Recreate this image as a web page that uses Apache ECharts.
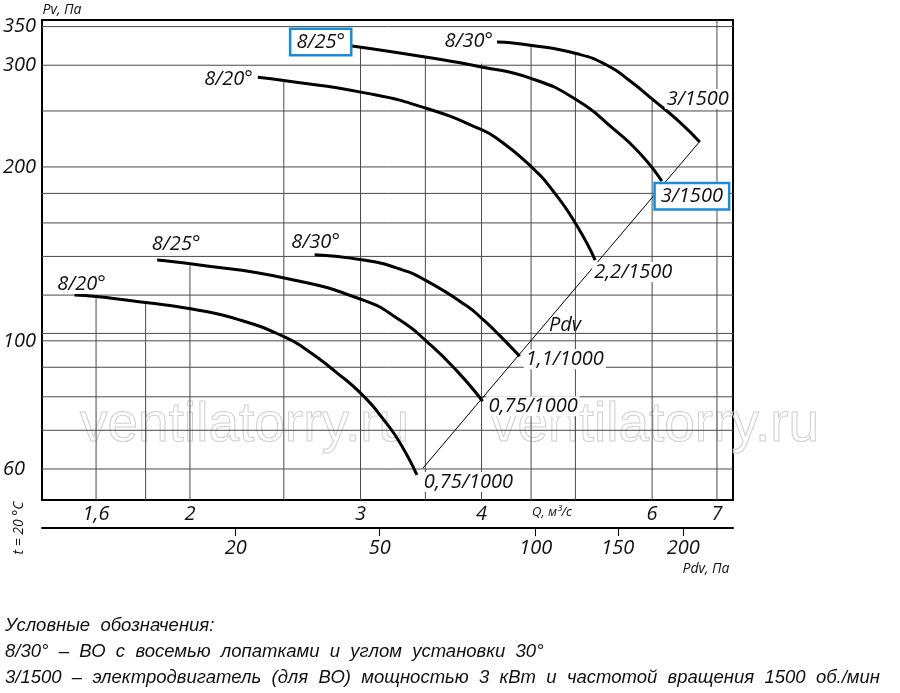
<!DOCTYPE html>
<html lang="ru">
<head>
    <meta charset="UTF-8">
    <title>Аэродинамические характеристики</title>
    <style>
        html, body {
            margin: 0;
            height: 100%;
            background: #fff;
        }
        #main {
            width: 900px;
            height: 693px;
        }
    </style>
</head>
<body>
<div id="main"></div>
<script src="https://cdn.jsdelivr.net/npm/echarts@6/dist/echarts.min.js"></script>
<script>
    // характеристики: Q, м3/с -> Pv, Па
    var q20hi = [2.35, 2.51, 3.02, 3.50, 4.00, 4.18, 4.49, 4.75, 5.02, 5.24];
    var p20hi = [286, 282, 269, 253, 232, 222, 201, 181, 158, 138];
    var q25hi = [2.94, 3.50, 4.00, 4.49, 5.02, 5.47, 5.83, 6.14];
    var p25hi = [324, 310, 298, 285, 261, 233, 211, 189];
    var q30hi = [4.15, 4.49, 5.02, 5.39, 5.69, 6.02, 6.41, 6.72];
    var p30hi = [329, 325, 314, 300, 282, 261, 239, 221];
    var q20lo = [1.52, 1.60, 1.80, 2.01, 2.25, 2.51, 2.64, 2.83, 3.02, 3.17, 3.30, 3.43];
    var p20lo = [120, 119.3, 116.5, 113.5, 108.7, 101.4, 96.4, 88.3, 80.3, 73, 66.3, 58.6];
    var q25lo = [1.85, 2.01, 2.51, 3.02, 3.30, 3.51, 3.77, 4.01];
    var p25lo = [138, 135.8, 128.3, 117.6, 108.4, 99.8, 88.8, 78.6];
    var q30lo = [2.69, 3.02, 3.30, 3.51, 3.86, 4.01, 4.18, 4.38];
    var p30lo = [141, 138, 133, 127, 115, 109, 102, 94];

    var bladeNames = ['8/20°', '8/25°', '8/30°', '8/20°', '8/25°', '8/30°'];
    var motorNames = ['2,2/1500', '3/1500', '3/1500', '0,75/1000', '0,75/1000', '1,1/1000'];

    // линия Pdv через концы характеристик
    var pdvLineQ = [3.48, 6.72];
    var pdvLineP = [60.2, 221.5];

    // подписи осей
    var qTicks = [1.6, 2, 3, 4, 6, 7];
    var pTicks = [60, 100, 200, 300, 350];
    var pdvTicks = [20, 50, 100, 150, 200];
    var pdvTickQ = [2.23, 3.14, 4.55, 5.53, 6.46];

    // сетка
    var gridP = [60, 70, 80, 90, 100, 103, 120, 140, 160, 180, 200, 250, 300, 350];
    var gridQ = [1.6, 1.8, 2, 2.5, 3, 3.5, 4, 4.5, 5, 6, 7];
    var gridQTop = [119, 117, 135, 281, 322, 310, 302, 325, 314, 261, 359];

    var Q_MIN = 1.407, Q_MAX = 7.272;
    var P_MIN = 53.02, P_MAX = 359.3;

    var FONT = "'Open Sans', 'DejaVu Sans', sans-serif";
    var TEXT_FONT = "'Liberation Sans', Arial, sans-serif";
    var BLUE = '#1a8bd6';
    var GRID_COLOR = '#4a4a4a';

    var curveQ = [q20hi, q25hi, q30hi, q20lo, q25lo, q30lo];
    var curveP = [p20hi, p25hi, p30hi, p20lo, p25lo, p30lo];

    // где стоят подписи у начала и конца кривых
    var startLabelStyle = [
        {position: 'left', distance: 3, offset: [0, 2]},
        {position: 'left', distance: 2, offset: [0, -4], boxed: true},
        {position: 'left', distance: 2, offset: [0, -1]},
        {position: 'top', distance: 1, offset: [7, 0]},
        {position: 'top', distance: 6, offset: [19, 0]},
        {position: 'top', distance: 2, offset: [1, 0]}
    ];
    var endLabelStyle = [
        {position: 'right', distance: -3, offset: [0, 12]},
        {position: 'right', distance: -6, offset: [0, 15], boxed: true},
        {position: 'top', distance: 33, offset: [-2, 0]},
        {position: 'right', distance: 5, offset: [0, 7]},
        {position: 'right', distance: 4, offset: [0, 5]},
        {position: 'right', distance: 4, offset: [0, 3]}
    ];

    function makeLabel(text, st) {
        var lab = {
            show: true,
            formatter: text,
            position: st.position,
            distance: st.distance,
            offset: st.offset,
            fontFamily: FONT,
            fontStyle: 'italic',
            fontSize: 20,
            color: '#111',
            backgroundColor: '#fff',
            padding: [0, 2]
        };
        if (st.boxed) {
            lab.borderColor = BLUE;
            lab.borderWidth = 2.5;
            lab.padding = [3, 5, 1, 5];
        }
        return lab;
    }

    function curveSeries(i) {
        var qs = curveQ[i], ps = curveP[i];
        var data = qs.map(function (q, k) {
            var item = {value: [q, ps[k]]};
            if (k === 0) item.label = makeLabel(bladeNames[i], startLabelStyle[i]);
            if (k === qs.length - 1) item.label = makeLabel(motorNames[i], endLabelStyle[i]);
            return item;
        });
        return {
            type: 'line',
            xAxisIndex: 0,
            yAxisIndex: 0,
            smooth: 0.55,
            symbol: 'circle',
            symbolSize: 0,
            showSymbol: true,
            showAllSymbol: true,
            silent: true,
            z: 3,
            itemStyle: {color: '#000'},
            lineStyle: {color: '#000', width: 3},
            label: {show: false},
            data: data
        };
    }

    function vGrid(params, api) {
        var top = api.coord([api.value(0), api.value(1)]);
        var bot = api.coord([api.value(0), P_MIN]);
        return {
            type: 'line',
            shape: {x1: top[0], y1: top[1], x2: bot[0], y2: bot[1]},
            style: {stroke: GRID_COLOR, lineWidth: 1}
        };
    }

    function hGrid(params, api) {
        var a = api.coord([Q_MIN, api.value(1)]);
        var b = api.coord([Q_MAX, api.value(1)]);
        return {
            type: 'line',
            shape: {x1: a[0], y1: a[1], x2: b[0], y2: b[1]},
            style: {stroke: GRID_COLOR, lineWidth: 1}
        };
    }

    function txt(x, y, text, size, extra) {
        var el = {
            type: 'text',
            x: x,
            y: y,
            silent: true,
            style: {
                text: text,
                font: 'italic ' + size + 'px ' + FONT,
                fill: '#111',
                align: 'center',
                verticalAlign: 'middle'
            }
        };
        if (extra) {
            for (var k in extra) el[k] = extra[k];
        }
        return el;
    }

    function legendLine(y, text) {
        return {
            type: 'text',
            x: 5,
            y: y,
            silent: true,
            style: {
                text: text,
                font: 'italic 18.5px ' + TEXT_FONT,
                fill: '#111',
                align: 'left',
                verticalAlign: 'middle'
            }
        };
    }

    function watermark(x) {
        return {
            type: 'text',
            x: x,
            y: 426,
            silent: true,
            z: 0,
            style: {
                text: 'ventilatorry.ru',
                font: '55px ' + TEXT_FONT,
                fill: 'none',
                stroke: '#cfcfcf',
                lineWidth: 1,
                align: 'left',
                verticalAlign: 'middle'
            }
        };
    }

    var axisFont = {
        fontFamily: FONT,
        fontStyle: 'italic',
        fontSize: 20,
        color: '#111'
    };

    var series = [
        {
            type: 'custom',
            xAxisIndex: 0,
            yAxisIndex: 0,
            silent: true,
            z: 1,
            renderItem: vGrid,
            encode: {x: 0, y: 1},
            data: gridQ.map(function (q, i) { return [q, gridQTop[i]]; })
        },
        {
            type: 'custom',
            xAxisIndex: 0,
            yAxisIndex: 0,
            silent: true,
            z: 1,
            renderItem: hGrid,
            encode: {x: 0, y: 1},
            data: gridP.map(function (p) { return [Q_MIN, p]; })
        },
        {
            type: 'line',
            xAxisIndex: 0,
            yAxisIndex: 0,
            silent: true,
            z: 2,
            symbol: 'none',
            lineStyle: {color: '#000', width: 1},
            data: pdvLineQ.map(function (q, i) { return [q, pdvLineP[i]]; })
        }
    ];
    for (var i = 0; i < curveQ.length; i++) series.push(curveSeries(i));

    var chart = echarts.init(document.getElementById('main'));
    var option = {
        animation: false,
        backgroundColor: '#fff',
        grid: [
            {
                left: 42, top: 20, width: 691, height: 480,
                show: true, borderColor: '#000', borderWidth: 2,
                containLabel: false, outerBoundsMode: 'none'
            },
            {
                left: 42, top: 527, width: 691, height: 1,
                containLabel: false, outerBoundsMode: 'none'
            }
        ],
        xAxis: [
            {
                type: 'log',
                gridIndex: 0,
                min: Q_MIN,
                max: Q_MAX,
                axisLine: {show: false},
                axisTick: {show: false},
                minorTick: {show: false},
                splitLine: {show: false},
                axisLabel: Object.assign({
                    customValues: qTicks,
                    margin: 4,
                    formatter: function (v) { return String(v).replace('.', ','); }
                }, axisFont)
            },
            {
                type: 'log',
                gridIndex: 1,
                min: Q_MIN,
                max: Q_MAX,
                axisLine: {show: true, lineStyle: {color: '#000', width: 2}},
                axisTick: {show: true, customValues: pdvTickQ, length: 8, lineStyle: {color: '#000', width: 1}},
                minorTick: {show: false},
                splitLine: {show: false},
                axisLabel: Object.assign({
                    customValues: pdvTickQ,
                    margin: 10,
                    formatter: function (v) {
                        var best = 0;
                        for (var k = 1; k < pdvTickQ.length; k++) {
                            if (Math.abs(pdvTickQ[k] - v) < Math.abs(pdvTickQ[best] - v)) best = k;
                        }
                        return String(pdvTicks[best]);
                    }
                }, axisFont)
            }
        ],
        yAxis: [
            {
                type: 'log',
                gridIndex: 0,
                min: P_MIN,
                max: P_MAX,
                axisLine: {show: false},
                axisTick: {show: false},
                minorTick: {show: false},
                splitLine: {show: false},
                axisLabel: Object.assign({
                    customValues: pTicks,
                    align: 'left',
                    margin: 39
                }, axisFont)
            },
            {
                type: 'value',
                gridIndex: 1,
                show: false
            }
        ],
        graphic: [
            watermark(80),
            watermark(490),
            txt(62, 10, 'Pv, Па', 14),
            txt(552, 512, 'Q, м³/с', 13),
            txt(706, 569, 'Pdv, Па', 14),
            txt(565, 325, 'Pdv', 20),
            txt(19, 528, 't = 20 °C', 14, {rotation: Math.PI / 2}),
            legendLine(626, 'Условные  обозначения:'),
            legendLine(652, '8/30°  –  ВО  с  восемью  лопатками  и  углом  установки  30°'),
            legendLine(678, '3/1500  –  электродвигатель  (для  ВО)  мощностью  3  кВт  и  частотой  вращения  1500  об./мин')
        ],
        series: series
    };
    chart.setOption(option);
</script>
</body>
</html>
